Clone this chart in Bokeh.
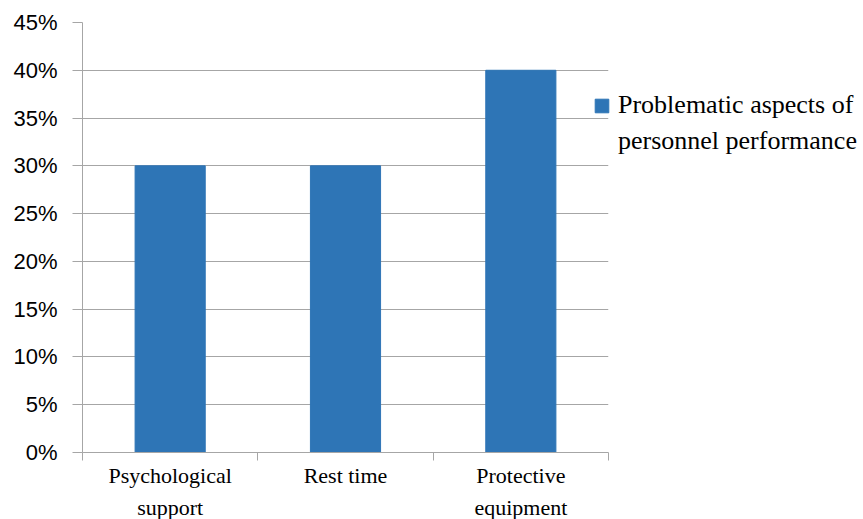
from bokeh.plotting import figure
from bokeh.models import FixedTicker, NumeralTickFormatter, Range1d, Legend, LegendItem, ColumnDataSource
from bokeh.embed import file_html
from bokeh.resources import INLINE

categories = ["Psychological\nsupport", "Rest time", "Protective\nequipment"]
values = [0.30, 0.30, 0.40]
series_lines = ["Problematic aspects of", "personnel performance"]
y_ticks = [0.0, 0.05, 0.10, 0.15, 0.20, 0.25, 0.30, 0.35, 0.40, 0.45]

positions = [i + 0.5 for i in range(len(categories))]
src = ColumnDataSource(dict(x=positions, top=values))

p = figure(width=855, height=519, output_backend="svg", toolbar_location=None,
           x_range=Range1d(0, len(categories)), y_range=Range1d(0, 0.45),
           frame_width=526, frame_height=430,
           min_border_left=82, min_border_top=22, min_border_right=247, min_border_bottom=10)
p.outline_line_color = None
p.background_fill_color = "white"

r = p.vbar(x="x", top="top", width=0.4, bottom=0, source=src, color="#2E75B6")
# invisible renderer used only for the second line of the legend label
blank = p.vbar(x=[], top=[], width=0.4, fill_alpha=0, line_alpha=0)

grid = "#A6A6A6"
# y axis
p.yaxis.ticker = FixedTicker(ticks=y_ticks, minor_ticks=[])
p.yaxis.formatter = NumeralTickFormatter(format="0%")
p.yaxis.axis_line_color = grid
p.yaxis.major_tick_line_color = grid
p.yaxis.major_tick_out = 10
p.yaxis.major_tick_in = 0
p.yaxis.major_label_standoff = 15
p.yaxis.major_label_text_font = "Liberation Sans"
p.yaxis.major_label_text_font_size = "22px"
p.yaxis.major_label_text_color = "#000000"
p.ygrid.ticker = FixedTicker(ticks=y_ticks)
p.ygrid.grid_line_color = grid
p.xgrid.grid_line_color = None

# x axis
p.xaxis.ticker = FixedTicker(ticks=positions, minor_ticks=list(range(len(categories) + 1)))
p.xaxis.major_label_overrides = {pos: lab for pos, lab in zip(positions, categories)}
p.xaxis.axis_line_color = grid
p.xaxis.major_tick_out = 0
p.xaxis.major_tick_in = 0
p.xaxis.minor_tick_out = 8
p.xaxis.minor_tick_in = 0
p.xaxis.minor_tick_line_color = grid
p.xaxis.major_label_standoff = 2
p.xaxis.major_label_text_font = "Liberation Serif"
p.xaxis.major_label_text_font_size = "22px"
p.xaxis.major_label_text_color = "#000000"
p.xaxis.major_label_text_line_height = 1.3

legend = Legend(items=[LegendItem(label=series_lines[0], renderers=[r]),
                       LegendItem(label=series_lines[1], renderers=[blank])],
                location=(-15, 296), border_line_color=None, background_fill_alpha=0,
                glyph_width=17, glyph_height=17, label_standoff=8, spacing=6,
                label_text_font="Liberation Serif", label_text_font_size="26px",
                label_text_color="#000000", padding=0, margin=0)
p.add_layout(legend, "right")

open("out.html", "w").write(file_html(p, INLINE))
